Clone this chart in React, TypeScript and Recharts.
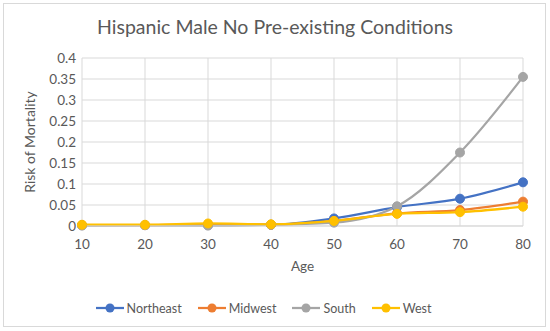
import React from "react";
import {
  LineChart,
  Line,
  XAxis,
  YAxis,
  CartesianGrid,
  Legend,
} from "recharts";

// Ages along the x axis
const ages = [10, 20, 30, 40, 50, 60, 70, 80];

// Risk of mortality per region
const northeast = [0.002, 0.002, 0.002, 0.003, 0.018, 0.045, 0.065, 0.104];
const midwest = [0.002, 0.002, 0.003, 0.003, 0.012, 0.03, 0.038, 0.058];
const south = [0.001, 0.002, 0.001, 0.003, 0.008, 0.047, 0.175, 0.355];
const west = [0.003, 0.003, 0.006, 0.004, 0.012, 0.029, 0.033, 0.046];

const yTicks = [0, 0.05, 0.1, 0.15, 0.2, 0.25, 0.3, 0.35, 0.4];

const series = [
  { key: "Northeast", values: northeast, color: "#4472C4" },
  { key: "Midwest", values: midwest, color: "#ED7D31" },
  { key: "South", values: south, color: "#A5A5A5" },
  { key: "West", values: west, color: "#FFC000" },
];

const data = ages.map((age, i) => {
  const row: Record<string, number> = { age };
  series.forEach((s) => {
    row[s.key] = s.values[i];
  });
  return row;
});

const FONT = "Lato, 'Open Sans', sans-serif";
const TEXT = "#595959";

const LegendContent = () => (
  <div
    style={{
      display: "flex",
      justifyContent: "center",
      gap: 16,
      fontFamily: FONT,
      fontSize: 12.5,
      color: TEXT,
      height: 20,
      alignItems: "center",
      paddingLeft: 4,
    }}
  >
    {series.map((s) => (
      <div key={s.key} style={{ display: "flex", alignItems: "center" }}>
        <svg width={28} height={12} style={{ marginRight: 3 }}>
          <line x1={0} y1={6} x2={28} y2={6} stroke={s.color} strokeWidth={2.25} />
          <circle cx={14} cy={6} r={4.5} fill={s.color} />
        </svg>
        <span>{s.key}</span>
      </div>
    ))}
  </div>
);

export default function App() {
  return (
    <div
      style={{
        position: "absolute",
        left: 0,
        top: 0,
        width: 550,
        height: 331,
        background: "#fff",
        fontFamily: FONT,
      }}
    >
      <div
        style={{
          position: "absolute",
          left: 3,
          top: 3,
          width: 541,
          height: 322,
          border: "1px solid #d9d9d9",
        }}
      />
      <div
        style={{
          position: "absolute",
          left: 0,
          top: 15,
          width: 550,
          textAlign: "center",
          fontSize: 19.5,
          color: TEXT,
        }}
      >
        Hispanic Male No Pre-existing Conditions
      </div>
      <div style={{ position: "absolute", left: 0, top: 0 }}>
        <LineChart
          width={550}
          height={331}
          data={data}
          margin={{ top: 58, right: 27, left: 0, bottom: 13 }}
        >
          <CartesianGrid stroke="#d9d9d9" />
          <XAxis
            dataKey="age"
            type="number"
            domain={[10, 80]}
            ticks={ages}
            interval={0}
            height={72}
            tickLine={false}
            axisLine={{ stroke: "#d9d9d9" }}
            tick={{ fill: TEXT, fontSize: 13.5, fontFamily: FONT }}
            tickMargin={7}
            label={{
              value: "Age",
              position: "insideBottom",
              offset: 27,
              fill: TEXT,
              fontSize: 13.5,
              fontFamily: FONT,
            }}
          />
          <YAxis
            type="number"
            domain={[0, 0.4]}
            ticks={yTicks}
            interval={0}
            width={82}
            tickLine={false}
            axisLine={false}
            tickSize={0}
            tickMargin={6}
            tick={{ fill: TEXT, fontSize: 13.5, fontFamily: FONT }}
            label={{
              value: "Risk of Mortality",
              angle: -90,
              position: "insideLeft",
              offset: 30,
              style: { textAnchor: "middle" },
              fill: TEXT,
              fontSize: 14,
              fontFamily: FONT,
            }}
          />
          <Legend verticalAlign="bottom" content={<LegendContent />} />
          {series.map((s) => (
            <Line
              key={s.key}
              type="monotone"
              dataKey={s.key}
              stroke={s.color}
              strokeWidth={2.25}
              dot={{ r: 4.5, fill: s.color, stroke: s.color, strokeWidth: 1 }}
              isAnimationActive={false}
            />
          ))}
        </LineChart>
      </div>
    </div>
  );
}
